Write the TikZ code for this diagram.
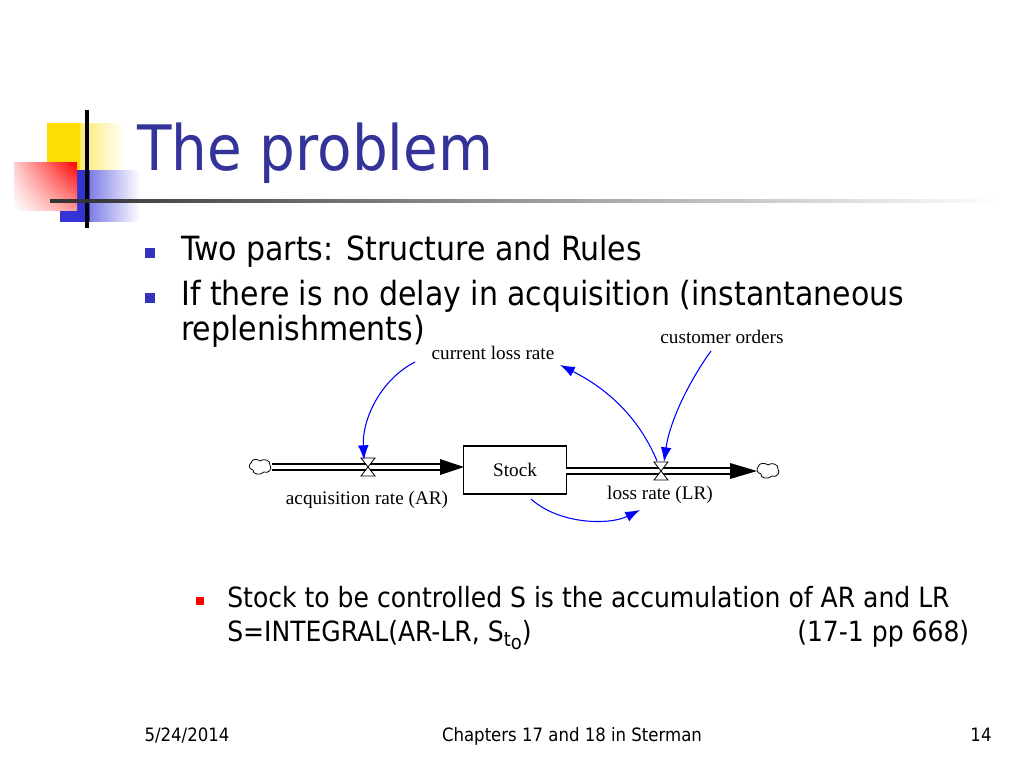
\documentclass[tikz,border=0pt]{standalone}
\usepackage{fontspec}
\setmainfont{DejaVu Sans Condensed}
\newfontfamily\serif{Liberation Serif}
\usetikzlibrary{fadings,arrows.meta,shadings}
\definecolor{titleblue}{HTML}{333399}
\definecolor{bulblue}{HTML}{3333BB}
\tikzset{
  lbl/.style={font=\serif\fontsize{14.4}{16}\selectfont},
  body/.style={anchor=base west,font=\fontsize{25}{28}\selectfont},
  body2/.style={anchor=base west,font=\fontsize{20.9}{24}\selectfont},
  foot/.style={anchor=base,font=\fontsize{13.8}{16}\selectfont},
  infl/.style={draw=blue,line width=0.8pt,-{Latex[length=11pt,width=8pt]}},
  pipe/.style={double=white,draw=black,line width=1.2pt,double distance=3pt},
  cloud/.style={draw,line width=0.6pt,fill=white}
}
\begin{document}
\begin{tikzpicture}[x=0.75pt,y=-0.75pt]
\useasboundingbox (0,0) rectangle (1024,768);
% decorations
\fill[yellow!80!orange,path fading=east] (47,123) rectangle (125,170);
\fill[yellow!80!orange] (47,123) rectangle (80,170);
\fill[blue!80!black!80,path fading=east] (60,170) rectangle (140,222);
\fill[blue!80!black!80] (60,170) rectangle (90,222);
\shade[upper right=red,lower right=red!40,upper left=red!20,lower left=white] (14,162) rectangle (77,210);
\draw[line width=3pt] (87,110) -- (87,228);
\draw[line width=3pt,black!80,path fading=east] (50,201) -- (1000,201);
\node[anchor=base west,text=titleblue,font=\fontsize{47}{56}\selectfont,inner sep=0] (title) at (137,170) {The problem};
% bullets
\fill[bulblue] (145,248) rectangle (155,258);
\fill[bulblue] (145,293) rectangle (155,303);
\node[body,inner sep=0] (t1) at (181,260) {Two parts: Structure and Rules};
\node[body,inner sep=0] (t2) at (181,305) {If there is no delay in acquisition (instantaneous};
\node[body,inner sep=0] (t3) at (181,340) {replenishments)};
\fill[red] (196,597) rectangle (204,605);
\node[body2,inner sep=0] (t4) at (227,607) {Stock to be controlled S is the accumulation of AR and LR};
\node[body2,inner sep=0] (t5) at (227,641) {S=INTEGRAL(AR-LR, S\raisebox{-0.35ex}{\fontsize{15}{16}\selectfont t\raisebox{-0.3ex}{o}})};
\node[body2,inner sep=0] (t6) at (797,641) {(17-1 pp 668)};
% diagram
\node[draw,line width=0.8pt,minimum width=77pt,minimum height=36pt,font=\serif\fontsize{14.4}{16}\selectfont] (stock) at (515,470) {Stock};
\draw[pipe] (272,467) -- (445,467);
\fill (440,459) -- (464,467) -- (440,475) -- cycle;
\draw[pipe] (566,471) -- (735,471);
\fill (730,463) -- (757,471) -- (730,479) -- cycle;
\draw[cloud] (251,463) .. controls (252,458) and (258,459) .. (260,461) .. controls (263,458) and (271,460) .. (270,465) .. controls (273,469) and (268,474) .. (264,472) .. controls (260,476) and (252,474) .. (253,470) .. controls (248,469) and (249,464) .. cycle;
\draw[cloud] (758,467) .. controls (759,462) and (766,463) .. (768,465) .. controls (771,462) and (779,464) .. (778,469) .. controls (781,473) and (776,478) .. (772,476) .. controls (768,480) and (760,478) .. (761,474) .. controls (756,473) and (757,468) .. cycle;
% valves
\coordinate (v1) at (368,467);
\coordinate (v2) at (661,471);
\foreach \v in {v1,v2}{
  \draw[fill=white,line width=0.6pt] ([shift={(-7,-9)}]\v) -- ([shift={(7,-9)}]\v) -- (\v) -- cycle;
  \draw[fill=white,line width=0.6pt] ([shift={(-7,9)}]\v) -- ([shift={(7,9)}]\v) -- (\v) -- cycle;
}
\node[lbl] (ar) at (367,500) {acquisition rate (AR)};
\node[lbl] (lr) at (660,495) {loss rate (LR)};
\node[lbl] (clr) at (493,353) {current loss rate};
\node[lbl] (co) at (722,337) {customer orders};
\draw[infl] (415,362) .. controls (380,380) and (362,420) .. (364,460);
\draw[infl] (657,461) .. controls (640,420) and (610,390) .. (560,365);
\draw[infl] (711,351) .. controls (690,380) and (670,420) .. (664,462);
\draw[infl] (531,499) .. controls (560,525) and (610,525) .. (640,510);
% footer
\node[foot] (f1) at (187,741) {5/24/2014};
\node[foot] (f2) at (572,741) {Chapters 17 and 18 in Sterman};
\node[foot] (f3) at (981,741) {14};
\end{tikzpicture}
\end{document}
